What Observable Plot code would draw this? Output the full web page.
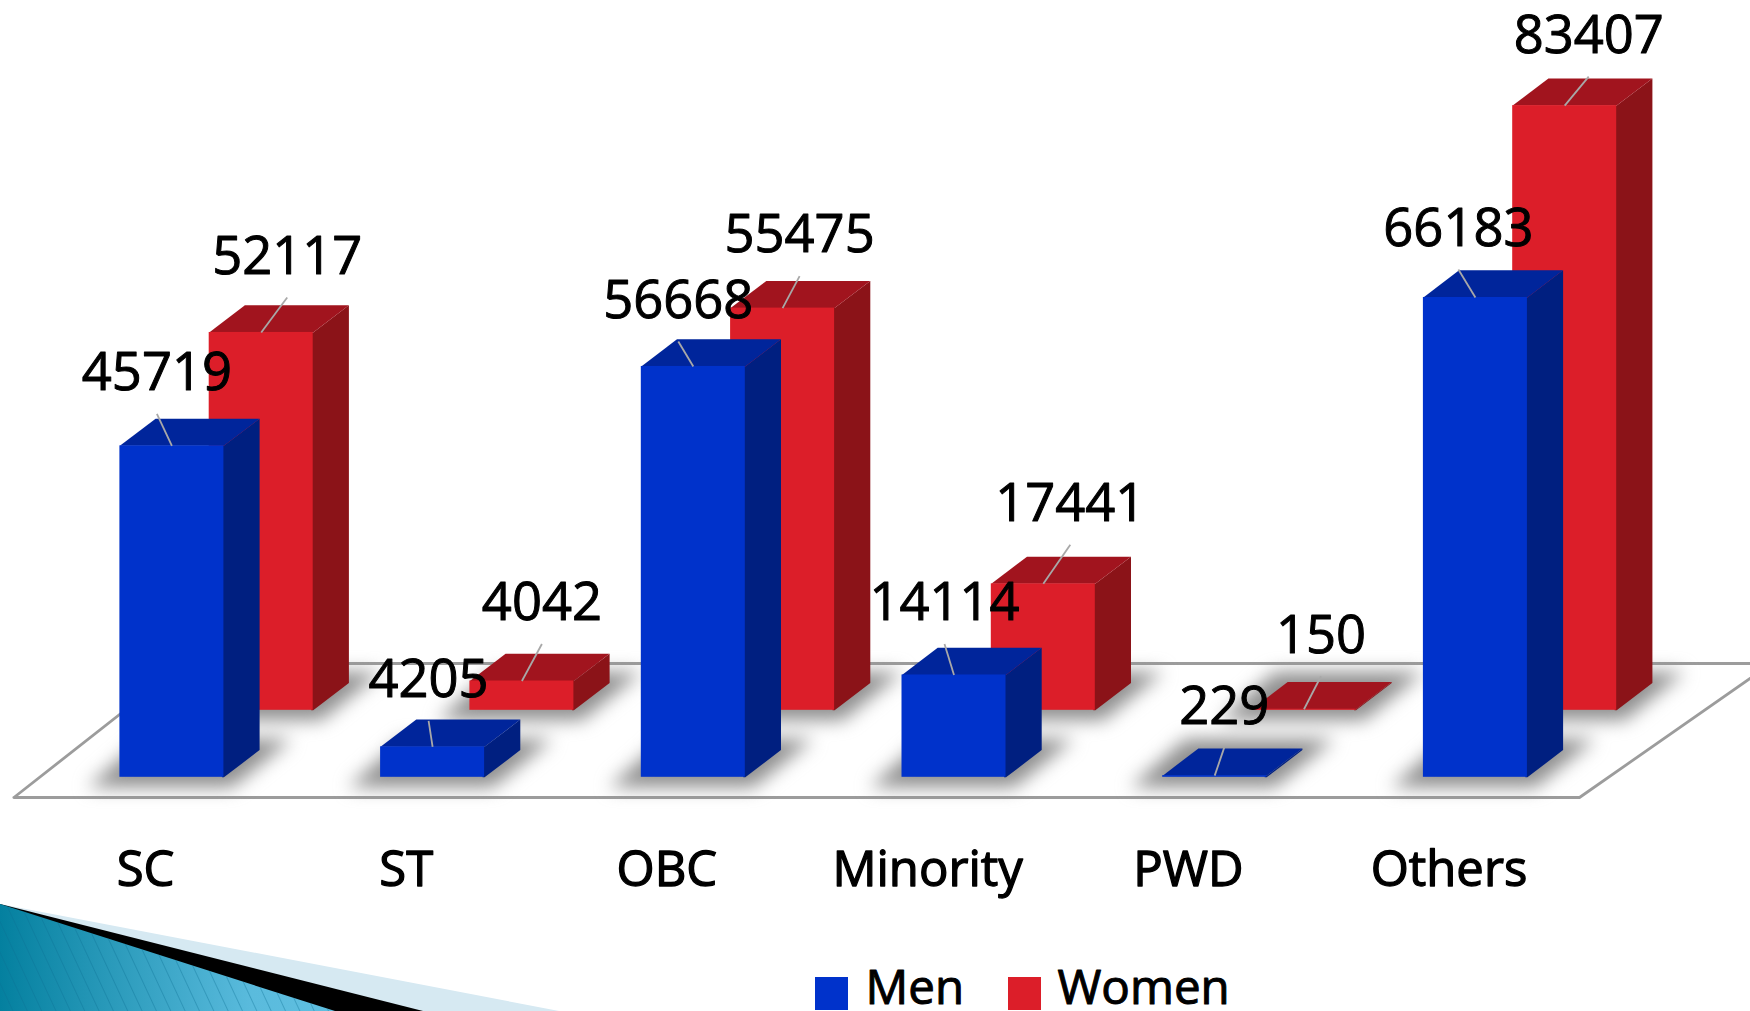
<!DOCTYPE html>
<html><head><meta charset="utf-8">
<style>html,body{margin:0;padding:0;background:#fff;overflow:hidden}svg{display:block}</style>
<script src="https://cdn.jsdelivr.net/npm/d3@7"></script>
<script src="https://cdn.jsdelivr.net/npm/@observablehq/plot@0.6"></script>
</head><body><div id="chart"></div>
<script>
const categories = ["SC", "ST", "OBC", "Minority", "PWD", "Others"];
const men = [45719, 4205, 56668, 14114, 229, 66183];
const women = [52117, 4042, 55475, 17441, 150, 83407];
const seriesNames = ["Men", "Women"];

// layout (pixels) 
const W = 1750, H = 1011;
const pxX = 260.7, pxY = 0.00725;       // pixels per category, per value unit
const x0 = 119.4, y0 = 776.8;           // where category 0, value 0 falls
const ux = p => p / pxX, uy = p => p / pxY;
const barW = 104, depthX = 35.7, depthY = 27.2, rowX = 89.3, rowY = 67;
const leaders = {
  Men:   [[-15,32],[-4,26],[-15,25],[-9.5,31],[9.5,28],[-17,28]],
  Women: [[26,35],[20,37],[17,32],[27,39],[17,33],[24,29]]
};
const faces = {
  Men:   {front:"#0032cb", top:"#00259b", side:"#001f80"},
  Women: {front:"#dc1e29", top:"#a1141e", side:"#8b1318"}
};

const bars = [];
seriesNames.forEach((s, k) => (k ? women : men).forEach((v, i) => bars.push({
  series: s, category: categories[i], value: v, index: i,
  x1: i + ux(k * rowX), x2: i + ux(k * rowX + barW),
  base: uy(k * rowY), top: uy(k * rowY) + v, lead: leaders[s][i]
})));
const poly = (id, fill, pts) => pts.concat([pts[0]]).map(([x, y]) => ({id, fill, x, y}));
const polys = [];
const shadows = [];
for (const b of bars) {
  const dx = ux(depthX), dy = uy(depthY), lap = ux(2);
  polys.push(...poly(b.series + b.index + "s", faces[b.series].side,
    [[b.x2 - lap, b.base], [b.x2, b.base], [b.x2 + dx, b.base + dy], [b.x2 + dx, b.top + dy], [b.x2, b.top], [b.x2 - lap, b.top]]));
  polys.push(...poly(b.series + b.index + "t", faces[b.series].top,
    [[b.x1, b.top], [b.x2, b.top], [b.x2 + dx, b.top + dy], [b.x1 + dx, b.top + dy]]));
  const ex = ux(32), ey = uy(10);
  shadows.push(...poly(b.series + b.index + "h", "#8f8f8f",
    [[b.x1 - ex, b.base - ey], [b.x2 + ex * .25, b.base - ey], [b.x2 + dx + ex, b.base + dy + ey * 1.1], [b.x1 + dx - ex * .4, b.base + dy + ey * 1.1]]));
}
const order = s => bars.filter(b => b.series === s);
const floorPts = [[13.4, 797], [1579, 797], [1771, 663], [184, 663]]
  .map(([px, py]) => [(px - x0) / pxX, (y0 - py) / pxY]);
const floor = poly("floor", "#fff", floorPts);
const midX = b => (b.x1 + b.x2) / 2;
const label = {fontFamily: "Open Sans", fill: "#000", stroke: "#000", strokeWidth: 1};

function decoration() {
  const g = d3.create("svg:g");
  const defs = g.append("defs");
  const grad = defs.append("linearGradient").attr("id", "deco").attr("x1", 0).attr("x2", 1).attr("y1", 0).attr("y2", 0);
  grad.append("stop").attr("offset", 0).attr("stop-color", "#04809f");
  grad.append("stop").attr("offset", .75).attr("stop-color", "#5abbdd");
  grad.append("stop").attr("offset", 1).attr("stop-color", "#5fbfe0");
  const pat = defs.append("pattern").attr("id", "stripes").attr("width", 13).attr("height", 13)
    .attr("patternUnits", "userSpaceOnUse").attr("patternTransform", "rotate(-25)");
  pat.append("line").attr("x1", 0).attr("x2", 0).attr("y1", 0).attr("y2", 13)
    .attr("stroke", "#0b6f92").attr("stroke-opacity", .45).attr("stroke-width", 1.6);
  g.append("path").attr("d", "M0,904L559,1011H0Z").attr("fill", "#d6e9f2");
  g.append("path").attr("d", "M0,904L423,1011H0Z").attr("fill", "#000");
  g.append("path").attr("d", "M0,904L335,1011H0Z").attr("fill", "url(#deco)");
  g.append("path").attr("d", "M0,904L335,1011H0Z").attr("fill", "url(#stripes)");
  return g.node();
}

const plot = Plot.plot({
  width: W, height: H, margin: 0,
  style: {background: "#fff"},
  x: {domain: [-x0 / pxX, (W - x0) / pxX], range: [0, W], axis: null},
  y: {domain: [(y0 - H) / pxY, y0 / pxY], range: [H, 0], axis: null},
  color: {domain: seriesNames, range: [faces.Men.front, faces.Women.front]},
  marks: [
    decoration,
    Plot.line(floor, {x: "x", y: "y", z: "id", fill: "#fff", stroke: "#9c9c9c", strokeWidth: 2.8}),
    Plot.line(shadows, {x: "x", y: "y", z: "id", fill: "fill", stroke: "none", imageFilter: "blur(9px)"}),
    ...seriesNames.slice().reverse().flatMap(s => [
      Plot.line(polys.filter(p => p.id.startsWith(s)), {x: "x", y: "y", z: "id", fill: "fill", stroke: "none"}),
      Plot.rect(order(s), {x1: "x1", x2: "x2", y1: "base", y2: "top", fill: "series"})
    ]),
    Plot.link(bars, {
      x1: midX, y1: "top",
      x2: b => midX(b) + ux(b.lead[0]), y2: b => b.top + uy(b.lead[1]),
      stroke: "#a8a8a8", strokeWidth: 1.8
    }),
    Plot.text(bars, {
      x: b => midX(b) + ux(b.lead[0]), y: b => b.top + uy(b.lead[1] + 40.5),
      text: b => String(b.value), fontSize: 52.5, ...label, textAnchor: "middle", lineAnchor: "middle"
    }),
    Plot.axisX(categories.map((c, i) => i), {
      x: i => i + ux(25.6), tickFormat: (d, i) => categories[i], tickSize: 0, tickPadding: 0,
      anchor: "bottom", dy: -(H - 870), fontSize: 49, fontFamily: "Open Sans", color: "#000",
      textStroke: "#000", textStrokeWidth: 1.3, lineAnchor: "middle"
    }),
    // legend
    Plot.rect(seriesNames, {
      x1: (d, i) => ((i ? 1008 : 815) - x0) / pxX, x2: (d, i) => ((i ? 1041 : 848) - x0) / pxX,
      y1: (y0 - 1010) / pxY, y2: (y0 - 977) / pxY, fill: d => d
    }),
    Plot.text(seriesNames, {
      x: (d, i) => ((i ? 1057 : 865) - x0) / pxX, y: (y0 - 988) / pxY,
      text: d => d, fontSize: 47.5, ...label, textAnchor: "start", lineAnchor: "middle"
    })
  ]
});
document.getElementById("chart").append(plot);
</script></body></html>
